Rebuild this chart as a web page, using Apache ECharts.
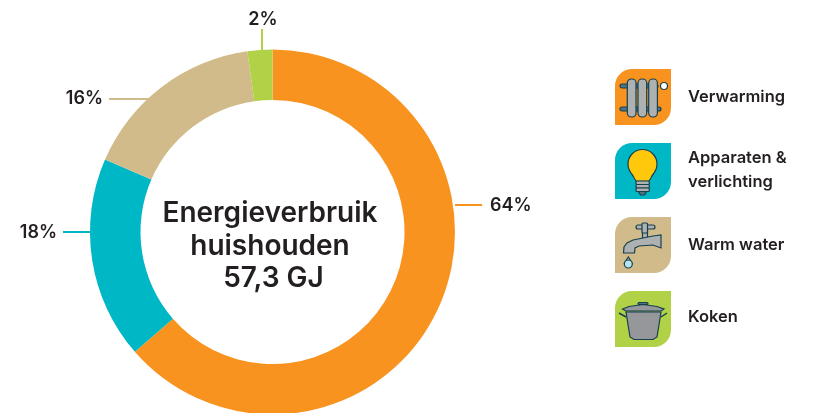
<!DOCTYPE html>
<html>
<head>
<meta charset="utf-8">
<style>
  html, body { margin: 0; padding: 0; background: #fff; }
  #chart { width: 821px; height: 413px; }
</style>
<script src="https://cdn.jsdelivr.net/npm/echarts@6/dist/echarts.min.js"></script>
</head>
<body>
<div id="chart"></div>
<script>
// data
const categories = ['Verwarming', 'Apparaten &\nverlichting', 'Warm water', 'Koken']
const shares = [63.6, 17.9, 16.3, 2.2] // slice sizes as measured, labels round them
const colors = ['#f9931f', '#00b7c6', '#d2bb8a', '#b1d247']
const centerLines = ['Energieverbruik', 'huishouden', '57,3 GJ']

const textColor = '#231f20'
const iconLine = '#17404f'
const fontFamily = 'Inter, "Noto Sans", sans-serif'

// label anchors and the leader lines that go with them
const labelSpots = [
  { x: 490, y: 206, align: 'left', line: [[455, 205], [470, 205], [482, 205]] },
  { x: 57, y: 233, align: 'right', line: [[91, 232], [75, 232], [63, 232]] },
  { x: 103, y: 99, align: 'right', line: [[150, 99], [130, 99], [109, 99]] },
  { x: 263, y: 20, align: 'center', line: [[262, 50], [262, 40], [262, 29]] }
]

const poly = (points, fill) => ({
  type: 'polygon',
  shape: { points },
  style: { fill, stroke: iconLine, lineWidth: 1.2 }
})
const rect = (x, y, width, height, fill, r) => ({
  type: 'rect',
  shape: { x, y, width, height, r: r || 0 },
  style: { fill, stroke: iconLine, lineWidth: 1.2 }
})
const circle = (cx, cy, r, fill) => ({
  type: 'circle',
  shape: { cx, cy, r },
  style: { fill, stroke: iconLine, lineWidth: 1.2 }
})

const radiatorIcon = [
  rect(5, 15, 38, 4, '#4f7482', 2),
  rect(5, 38, 41, 4, '#4f7482', 2),
  rect(12.3, 10, 8.7, 38, '#aeb1b1', 4),
  rect(23, 10, 8.7, 38, '#aeb1b1', 4),
  rect(33.7, 10, 8.7, 38, '#aeb1b1', 4),
  circle(49, 17, 3.5, '#ffffff')
]
const bulbIcon = [
  poly([[15.5, 29], [21, 38], [34, 38], [39.5, 29]], '#ffc80b'),
  circle(27.5, 21, 14.5, '#ffc80b'),
  {
    type: 'polygon',
    shape: { points: [[16.4, 29], [21.6, 37.4], [33.4, 37.4], [38.6, 29]] },
    style: { fill: '#ffc80b' }
  },
  rect(21, 38, 13.3, 3.5, '#aeb1b1', 1),
  rect(21, 41.5, 13.3, 3.5, '#aeb1b1', 1),
  rect(21, 45, 13.3, 3.5, '#aeb1b1', 1),
  poly([[23.5, 48.5], [31.5, 48.5], [29.5, 52], [25.5, 52]], '#4f7482')
]
const tapIcon = [
  rect(27.5, 14, 5, 9, '#aeb1b1'),
  rect(21, 8, 19, 4, '#aeb1b1', 2),
  rect(27, 6, 5.5, 10, '#aeb1b1', 1),
  poly([[8.5, 36], [9, 30], [12, 26], [18, 23], [38, 19], [46, 18], [46, 31], [38, 28], [24, 29], [20, 31], [19.5, 36]], '#aeb1b1'),
  poly([[13.3, 40], [9.5, 46], [17, 46]], '#b8e2ee'),
  circle(13.3, 47, 4, '#b8e2ee'),
  { type: 'rect', shape: { x: 11, y: 44, width: 4.6, height: 2.5 }, style: { fill: '#b8e2ee' } }
]
const potIcon = [
  { type: 'line', shape: { x1: 4, y1: 22, x2: 11, y2: 26 }, style: { stroke: iconLine, lineWidth: 1.5 } },
  { type: 'line', shape: { x1: 52, y1: 22, x2: 46, y2: 26 }, style: { stroke: iconLine, lineWidth: 1.5 } },
  poly([[11, 21], [46, 21], [42, 46], [38, 48.5], [19, 48.5], [15, 46]], '#95979a'),
  poly([[7.5, 18], [14, 15.5], [28, 13.5], [42, 15.5], [49, 18], [46, 20], [11, 20]], '#95979a'),
  rect(23, 11.5, 10, 2, '#4f7482', 1)
]
const icons = [radiatorIcon, bulbIcon, tapIcon, potIcon]

// legend tiles, two-corner rounded squares with the icon on top
const tileTop = [69, 143, 217, 291]
const legendText = [97.5, 170, 245.5, 317.5]
const legendItems = categories.map((name, i) => ({
  type: 'group',
  x: 615,
  y: tileTop[i],
  children: [
    {
      type: 'rect',
      shape: { x: 0, y: 0, width: 56, height: 56, r: [17, 0, 17, 0] },
      style: { fill: colors[i] }
    },
    ...icons[i],
    {
      type: 'text',
      x: 73,
      y: legendText[i] - tileTop[i],
      style: {
        text: name,
        fill: textColor,
        font: '600 16.5px ' + fontFamily,
        lineHeight: 24,
        verticalAlign: 'middle'
      }
    }
  ]
}))

const centerX = [270, 270, 273.5]
const centerY = [214, 247, 279]
const centerItems = centerLines.map((line, i) => ({
  type: 'text',
  x: centerX[i],
  y: centerY[i],
  style: {
    text: line,
    fill: textColor,
    font: '600 28px ' + fontFamily,
    align: 'center',
    verticalAlign: 'middle'
  }
}))

const chart = echarts.init(document.getElementById('chart'), null, { renderer: 'canvas' })
chart.setOption({
  animation: false,
  backgroundColor: '#fff',
  color: colors,
  graphic: { elements: [...centerItems, ...legendItems] },
  series: [
    {
      type: 'pie',
      center: [272.5, 232],
      radius: [132, 182.5],
      startAngle: 90,
      clockwise: true,
      data: shares.map((value, i) => ({
        value,
        name: categories[i],
        labelLine: { lineStyle: { color: colors[i] } }
      })),
      label: {
        show: true,
        position: 'outside',
        overflow: 'none',
        formatter: (p) => Math.round(p.value) + '%',
        color: textColor,
        fontFamily,
        fontWeight: 600,
        fontSize: 18
      },
      labelLine: { show: true, smooth: false, lineStyle: { width: 2 } },
      labelLayout: (params) => {
        const spot = labelSpots[params.dataIndex]
        return {
          x: spot.x,
          y: spot.y,
          align: spot.align,
          verticalAlign: 'middle',
          labelLinePoints: spot.line
        }
      },
      emphasis: { disabled: true }
    }
  ]
})
</script>
</body>
</html>
